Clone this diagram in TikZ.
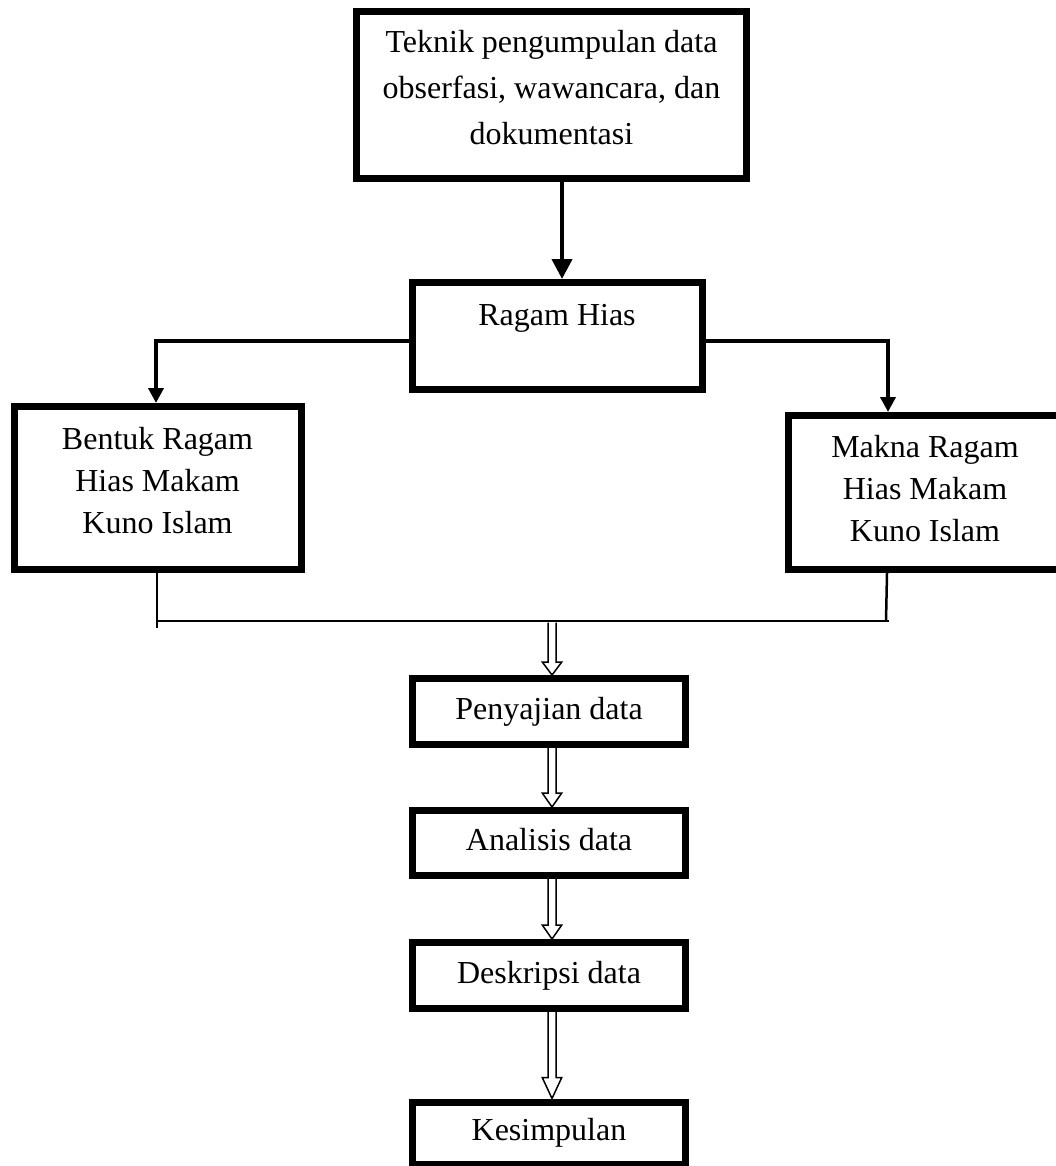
\documentclass[tikz,border=0pt]{standalone}
\usepackage{fontspec}
\setmainfont{Liberation Serif}
\usetikzlibrary{arrows.meta,calc}
\tikzset{
  box/.style={draw=black, line width=7pt, fill=white, inner sep=0pt, rectangle},
  txt/.style={font=\fontsize{32}{46}\selectfont, align=center, inner sep=0pt},
  txtb/.style={font=\fontsize{32}{42}\selectfont, align=center, inner sep=0pt},
  stxt/.style={font=\fontsize{32}{40}\selectfont, text height=22pt, text depth=7pt},
  conn/.style={line width=4pt, -{Triangle[width=15pt,length=15pt]}},
  bigconn/.style={line width=4pt, -{Triangle[width=20pt,length=20pt]}},
  joinline/.style={line width=2.5pt},
  hollow/.style={draw=black, line width=1.5pt, fill=white, line join=miter},
}
\newcommand\harrow[3]{%
  \draw[hollow] ($(#1)+(-4,0)$) -- ($(#2)+(-4,-#3)$) -- ($(#2)+(-9.75,-#3)$) -- (#2)
    -- ($(#2)+(9.75,-#3)$) -- ($(#2)+(4,-#3)$) -- ($(#1)+(4,0)$);}
\begin{document}
\begin{tikzpicture}[x=1pt,y=-1pt]
\fill[white] (0,0) rectangle (1056,1166);
\useasboundingbox (0,0) rectangle (1056,1166);

% boxes
\node[box, minimum width=390pt, minimum height=167pt] (top) at (551.5,95) {};
\node[txt] (toptxt) at (551.5,88) {Teknik pengumpulan data\\obserfasi, wawancara, dan\\dokumentasi};

\node[box, minimum width=290pt, minimum height=107pt] (ragam) at (557.5,336) {};
\node[stxt, inner sep=0pt] (ragamtxt) at (557,317.5) {Ragam Hias};

\node[box, minimum width=287pt, minimum height=163pt] (left) at (158,488) {};
\node[txtb] (lefttxt) at (157.5,481) {Bentuk Ragam\\Hias Makam\\Kuno Islam};

\node[box, minimum width=273pt, minimum height=154pt] (right) at (925,492.5) {};
\node[txtb] (righttxt) at (925,488.5) {Makna Ragam\\Hias Makam\\Kuno Islam};

\node[box, stxt, minimum width=273pt, minimum height=66pt] (pen) at (549,711.5) {Penyajian data};
\node[box, stxt, minimum width=273pt, minimum height=65pt] (ana) at (549,843) {Analisis data};
\node[box, stxt, minimum width=273pt, minimum height=66pt] (des) at (549,975.5) {Deskripsi data};
\node[box, stxt, minimum width=273pt, minimum height=62pt] (kes) at (549,1133) {Kesimpulan};

% connectors
\coordinate (mx) at (562,0);
\draw[bigconn] (mx |- top.south) -- (mx |- ragam.north);

\coordinate (lc) at (156,341);
\coordinate (rc) at (888,341);
\draw[conn] (lc -| ragam.west) -- (lc) -- (lc |- left.north);
\draw[conn] (rc -| ragam.east) -- (rc) -- (rc |- right.north);

\coordinate (bl) at (157,628);
\coordinate (bm) at (157,621);
\coordinate (br) at (889,621);
\draw[joinline] (bl |- left.south) -- (bl);
\draw[joinline] (bm) -- (br);
\draw[joinline] (887,573.2) -- (886,621);

% hollow arrows
\coordinate (hx) at (552,0);
\path (hx |- bm) ++(0,1.5) coordinate (h1s);
\coordinate (h1e) at (hx |- pen.north);
\coordinate (h2s) at (hx |- pen.south);
\coordinate (h2e) at (hx |- ana.north);
\coordinate (h3s) at (hx |- ana.south);
\coordinate (h3e) at (hx |- des.north);
\coordinate (h4s) at (hx |- des.south);
\coordinate (h4e) at (hx |- kes.north);
\harrow{h1s}{h1e}{13}
\harrow{h2s}{h2e}{14}
\harrow{h3s}{h3e}{14}
\harrow{h4s}{h4e}{21}
\end{tikzpicture}
\end{document}
